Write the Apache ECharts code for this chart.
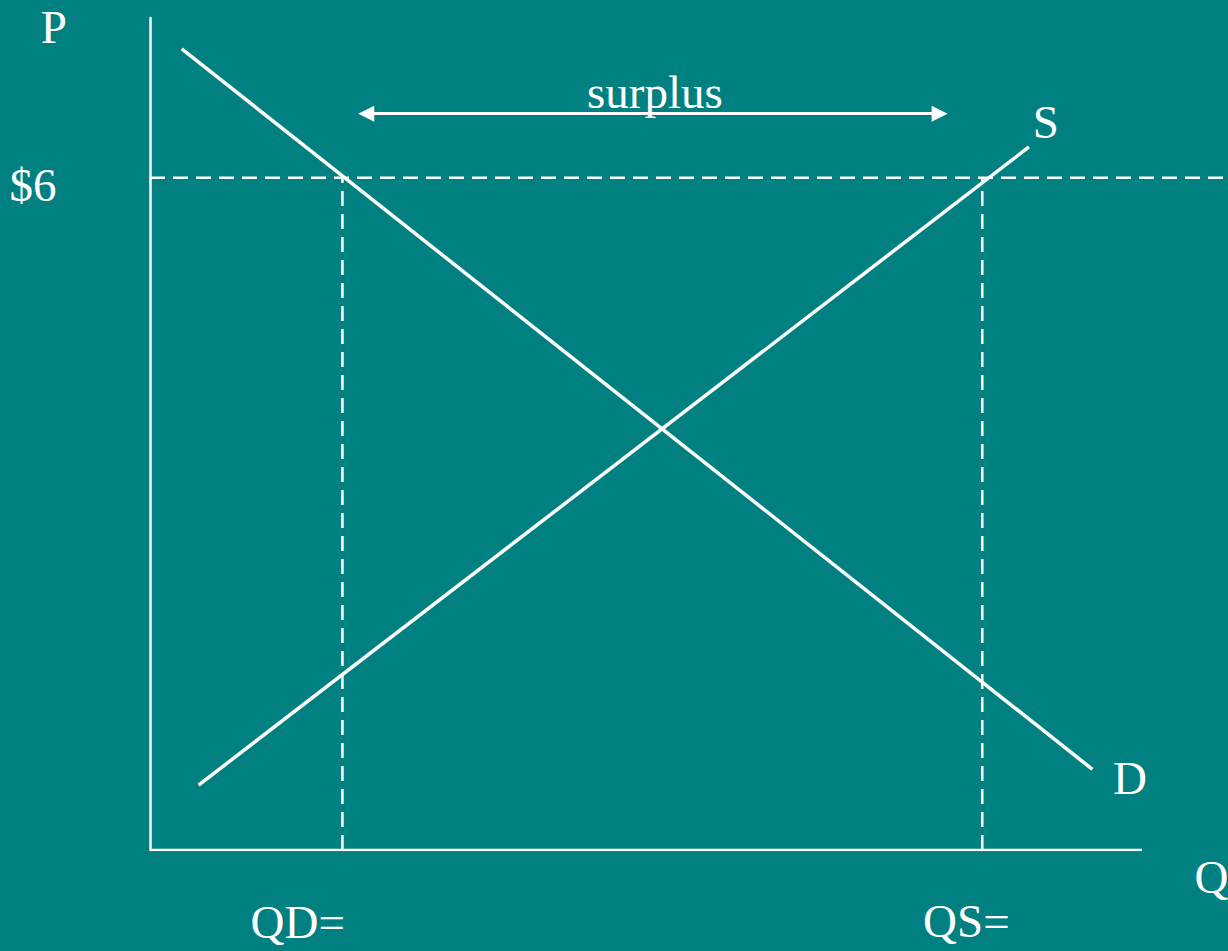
<!DOCTYPE html>
<html>
<head>
<meta charset="utf-8">
<script src="https://cdn.jsdelivr.net/npm/echarts@6/dist/echarts.min.js"></script>
<style>
	html, body { margin: 0; padding: 0; background: #008080; }
	#chart { width: 1228px; height: 951px; }
</style>
</head>
<body>
<div id="chart"></div>
<script>
// curves (quantity, price), axis scale 0-100
var demandQ = [3.2, 95.0];
var demandP = [96.3, 9.7];
var supplyQ = [4.9, 88.6];
var supplyP = [7.8, 84.5];
// price floor $6 and the quantities it gives
var floorPrice = 80.8;
var qd = 19.4;
var qs = 83.9;
// surplus arrow (centres of the two heads)
var surplusQ = [21.8, 79.6];
var surplusP = 88.5;
// annotations
var labelText = ['P', '$6', 'surplus', 'S', 'D', 'Q', 'QD=', 'QS='];
var labelQ = [-9.7, -11.8, 50.9, 90.3, 98.8, 107.0, 14.9, 82.3];
var labelP = [98.9, 79.9, 91.1, 87.5, 8.7, -3.3, -8.7, -8.5];

var white = '#ffffff';
var serif = 'Liberation Serif';

var pairs = function(xs, ys) {
	return xs.map(function(x, i) { return [x, ys[i]]; });
};

var dashed = { color: white, width: 2.5, type: [15, 8] };

var option = {
	backgroundColor: '#008080',
	animation: false,
	grid: { left: 150, right: 0, top: 18, bottom: 101 },
	xAxis: {
		type: 'value', min: 0, max: 108.67,
		axisLine: { show: false }, axisTick: { show: false },
		axisLabel: { show: false }, splitLine: { show: false }
	},
	yAxis: {
		type: 'value', min: 0, max: 100,
		axisLine: { show: true, lineStyle: { color: white, width: 2.5 } },
		axisTick: { show: false }, axisLabel: { show: false }, splitLine: { show: false }
	},
	series: [
		{
			// quantity axis
			type: 'line', symbol: 'none',
			data: [[0, 0], [100, 0]],
			lineStyle: { color: white, width: 2.5 }
		},
		{
			type: 'line', symbol: 'none',
			data: [[0, floorPrice], [108.67, floorPrice]],
			lineStyle: dashed
		},
		{
			type: 'line', symbol: 'none',
			data: [[qd, 0], [qd, floorPrice]],
			lineStyle: dashed
		},
		{
			type: 'line', symbol: 'none',
			data: [[qs, 0], [qs, floorPrice]],
			lineStyle: dashed
		},
		{
			name: 'D', type: 'line', symbol: 'none',
			data: pairs(demandQ, demandP),
			lineStyle: { color: white, width: 3.5 }
		},
		{
			name: 'S', type: 'line', symbol: 'none',
			data: pairs(supplyQ, supplyP),
			lineStyle: { color: white, width: 3.5 }
		},
		{
			type: 'line', symbol: 'none', data: [],
			markLine: {
				silent: true,
				symbol: ['triangle', 'triangle'],
				symbolSize: [16, 16],
				label: { show: false },
				itemStyle: { color: white },
				lineStyle: { color: white, width: 3, type: 'solid' },
				data: [[{ coord: [surplusQ[0], surplusP] }, { coord: [surplusQ[1], surplusP] }]]
			}
		},
		{
			type: 'scatter', symbolSize: 0, clip: false, silent: true,
			itemStyle: { opacity: 1 },
			data: labelText.map(function(t, i) { return { value: [labelQ[i], labelP[i]], name: t }; }),
			label: {
				show: true, position: 'inside',
				formatter: '{b}',
				color: white, opacity: 1, fontFamily: serif, fontSize: 47
			}
		}
	]
};

var myChart = echarts.init(document.getElementById('chart'), null, { renderer: 'svg' });
myChart.setOption(option);
</script>
</body>
</html>
